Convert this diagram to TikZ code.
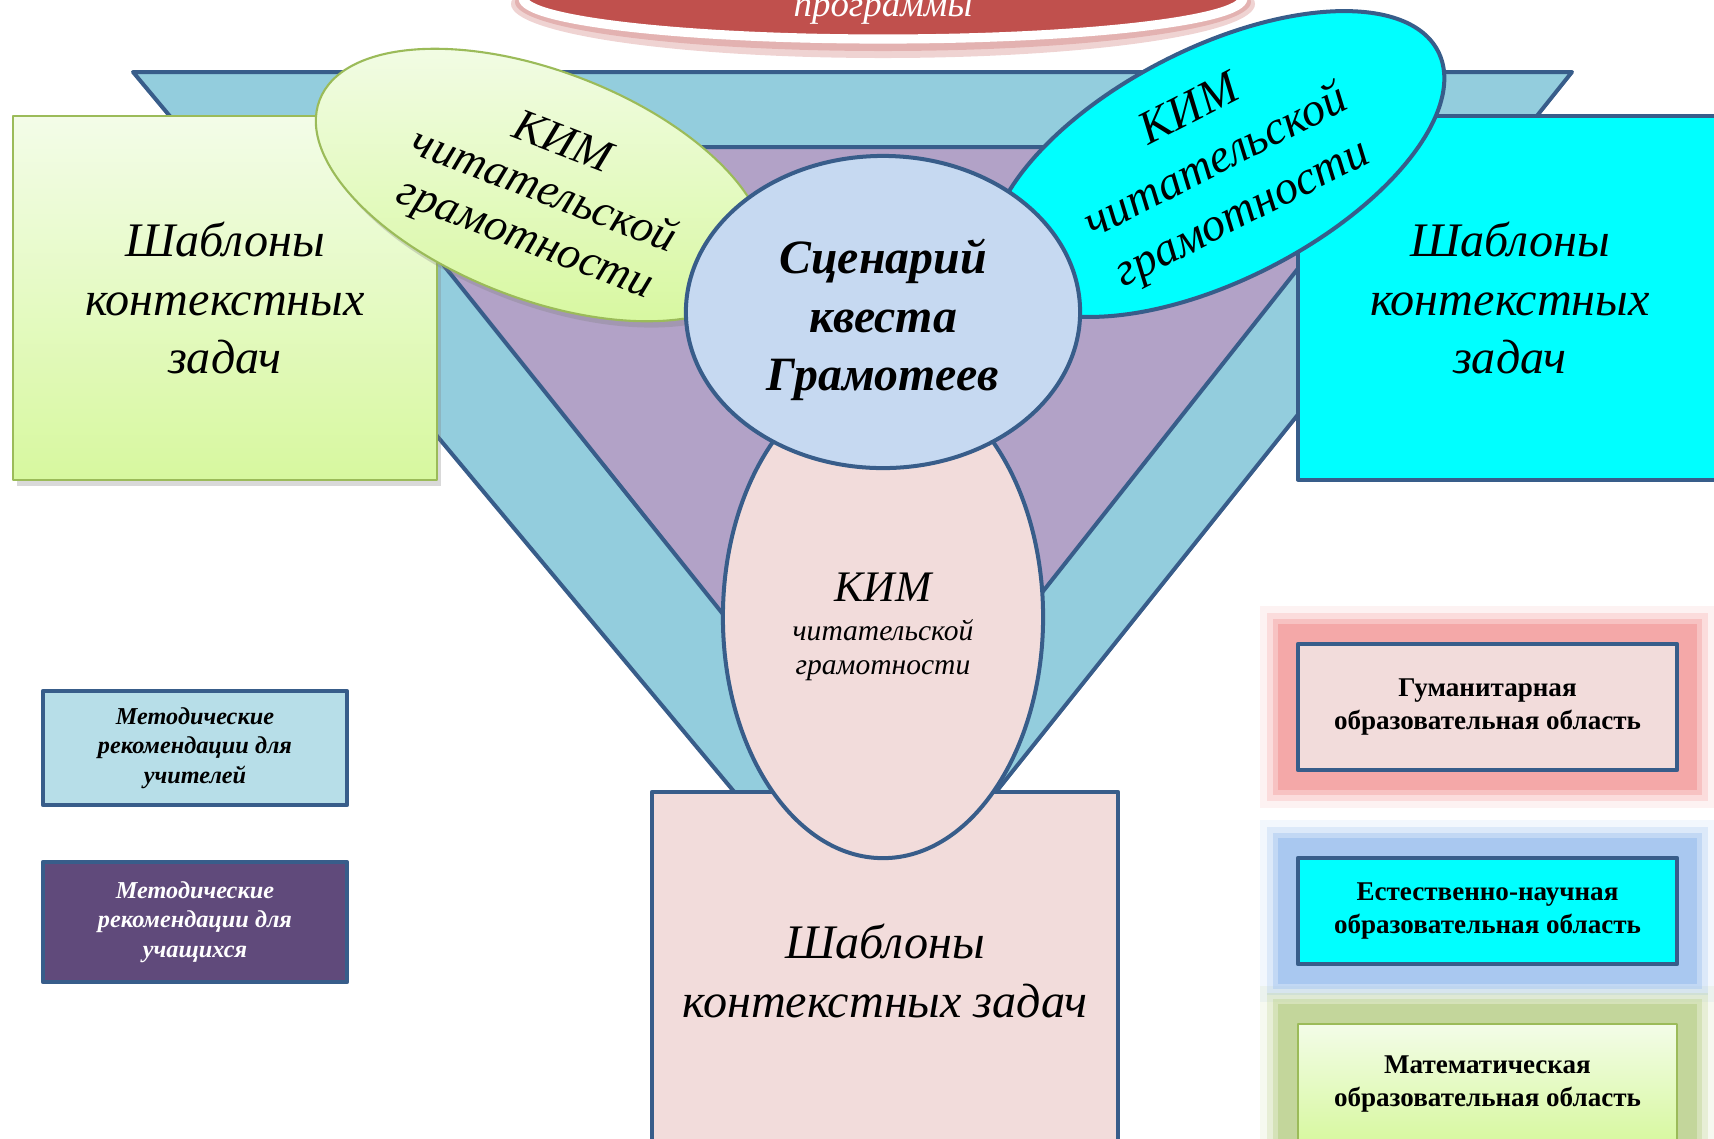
\documentclass[tikz,border=0pt]{standalone}
\usepackage{fontspec}
\setmainfont{Liberation Serif}
\usetikzlibrary{shapes.geometric,shadows}
\definecolor{edgeblue}{HTML}{385D8A}
\definecolor{funnelblue}{HTML}{93CDDD}
\definecolor{funnelviolet}{HTML}{B2A2C7}
\definecolor{scenblue}{HTML}{C6D9F1}
\definecolor{kimpink}{HTML}{F2DCDB}
\definecolor{aqua}{HTML}{00FFFF}
\definecolor{leafgreen}{HTML}{9BBB59}
\definecolor{paletop}{HTML}{F3FCE8}
\definecolor{palebottom}{HTML}{D7F89F}
\definecolor{titlered}{HTML}{C0504D}
\definecolor{teachblue}{HTML}{B7DEE8}
\definecolor{pupilviolet}{HTML}{604A7B}
\definecolor{glowred}{HTML}{F4A8A8}
\definecolor{glowblue}{HTML}{A9C8F0}
\definecolor{glowgreen}{HTML}{C3D69B}
\begin{document}
\begin{tikzpicture}[x=0.01cm, y=-0.01cm, line join=round,
    edged/.style={draw=edgeblue, line width=1.14pt},
    leafy/.style={draw=leafgreen, line width=0.6pt, top color=paletop, bottom color=palebottom},
    soft/.style={drop shadow={opacity=0.3, shadow xshift=1.2pt, shadow yshift=-1.8pt}},
    tpltext/.style={font=\fontsize{13.7}{16.7}\selectfont\itshape, align=center, inner sep=0pt},
    methtext/.style={font=\fontsize{6.9}{8.4}\selectfont\bfseries\itshape, align=center, inner sep=0pt},
    areatext/.style={font=\fontsize{7.7}{9.6}\selectfont\bfseries, align=center, inner sep=0pt}]
  \useasboundingbox (0,0) rectangle (1714,1138);
  \clip (0,0) rectangle (1714,1138);
  % title
  \fill[titlered, opacity=0.25] (883,4) ellipse [x radius=372, y radius=54];
  \fill[titlered, opacity=0.25] (883,2) ellipse [x radius=368, y radius=49];
  \draw[white, line width=2.6pt, fill=titlered] (883,-2) ellipse [x radius=360, y radius=41];
  \node[font=\fontsize{10.5}{12}\selectfont\itshape, text=white, anchor=base] (prog) at (883,16) {программы};
  % funnel
  \draw[edged, fill=funnelblue] (133,72) -- (1572,72) -- (868,952) -- cycle;
  \draw[edged, fill=funnelviolet] (349,147) -- (1394,147) -- (875,804) -- cycle;
  % templates
  \node[leafy, soft, tpltext, minimum width=4.24cm, minimum height=3.63cm] (tplleft) at (225,298) {Шаблоны\\контекстных\\задач};
  \node[edged, fill=aqua, tpltext, minimum width=4.24cm, minimum height=3.63cm] (tplright) at (1510,298) {Шаблоны\\контекстных\\задач};
  \node[edged, fill=kimpink, tpltext, minimum width=4.66cm, minimum height=3.58cm] (tplbottom) at (885,971) {Шаблоны\\контекстных задач};
  % KIM
  \node[ellipse, edged, fill=kimpink, minimum width=3.2cm, minimum height=4.82cm] (kimbottom) at (883,617) {};
  \node[align=center, inner sep=0pt, font=\fontsize{8.4}{9.6}\selectfont\itshape] (kimbottomtext) at (883,627)
    {{\fontsize{12.4}{14}\selectfont КИМ}\\[1.5pt]читательской\\грамотности};
  \node[ellipse, leafy, soft, rotate=-21, minimum width=4.74cm, minimum height=2.28cm] (kimleft) at (541,185) {};
  \node[tpltext, font=\fontsize{13.0}{14.6}\selectfont\itshape, rotate=-21] (kimlefttext) at (543,193) {КИМ\\читательской\\грамотности};
  \node[ellipse, edged, fill=aqua, tpltext, font=\fontsize{13.4}{16.4}\selectfont\itshape, rotate=27,
    minimum width=4.96cm, minimum height=2.32cm] (kimright) at (1217,164) {КИМ\\читательской\\грамотности};
  % scenario
  \node[ellipse, edged, fill=scenblue, minimum width=3.94cm, minimum height=3.12cm] (quest) at (883,312) {};
  \node[tpltext, font=\fontsize{13.6}{16.6}\selectfont\bfseries\itshape] (questtext) at (883,320) {Сценарий\\квеста\\Грамотеев};
  % methodical
  \node[edged, fill=teachblue, methtext, minimum width=3.04cm, minimum height=1.14cm] (teach) at (195,748) {Методические\\рекомендации для\\учителей};
  \node[edged, fill=pupilviolet, methtext, text=white, minimum width=3.04cm, minimum height=1.2cm] (pupil) at (195,922) {Методические\\рекомендации для\\учащихся};
  % areas
  \foreach \d/\o in {38/0.15, 31/0.3, 25/0.5, 20/1}{
    \fill[glowred, opacity=\o] (1298-\d,644-\d) rectangle (1677+\d,770+\d);
    \fill[glowblue, opacity=\o] (1298-\d,858-\d) rectangle (1677+\d,964+\d);
    \fill[glowgreen, opacity=\o] (1298-\d,1024-\d) rectangle (1677+\d,1144+\d);
  }
  \node[edged, fill=kimpink, areatext, minimum width=3.79cm, minimum height=1.26cm] (human) at (1487.5,707) {Гуманитарная\\образовательная область};
  \node[edged, fill=aqua, areatext, minimum width=3.79cm, minimum height=1.06cm] (science) at (1487.5,911) {Естественно-научная\\образовательная область};
  \node[leafy, areatext, minimum width=3.79cm, minimum height=1.2cm] (maths) at (1487.5,1084) {Математическая\\образовательная область};
\end{tikzpicture}
\end{document}
